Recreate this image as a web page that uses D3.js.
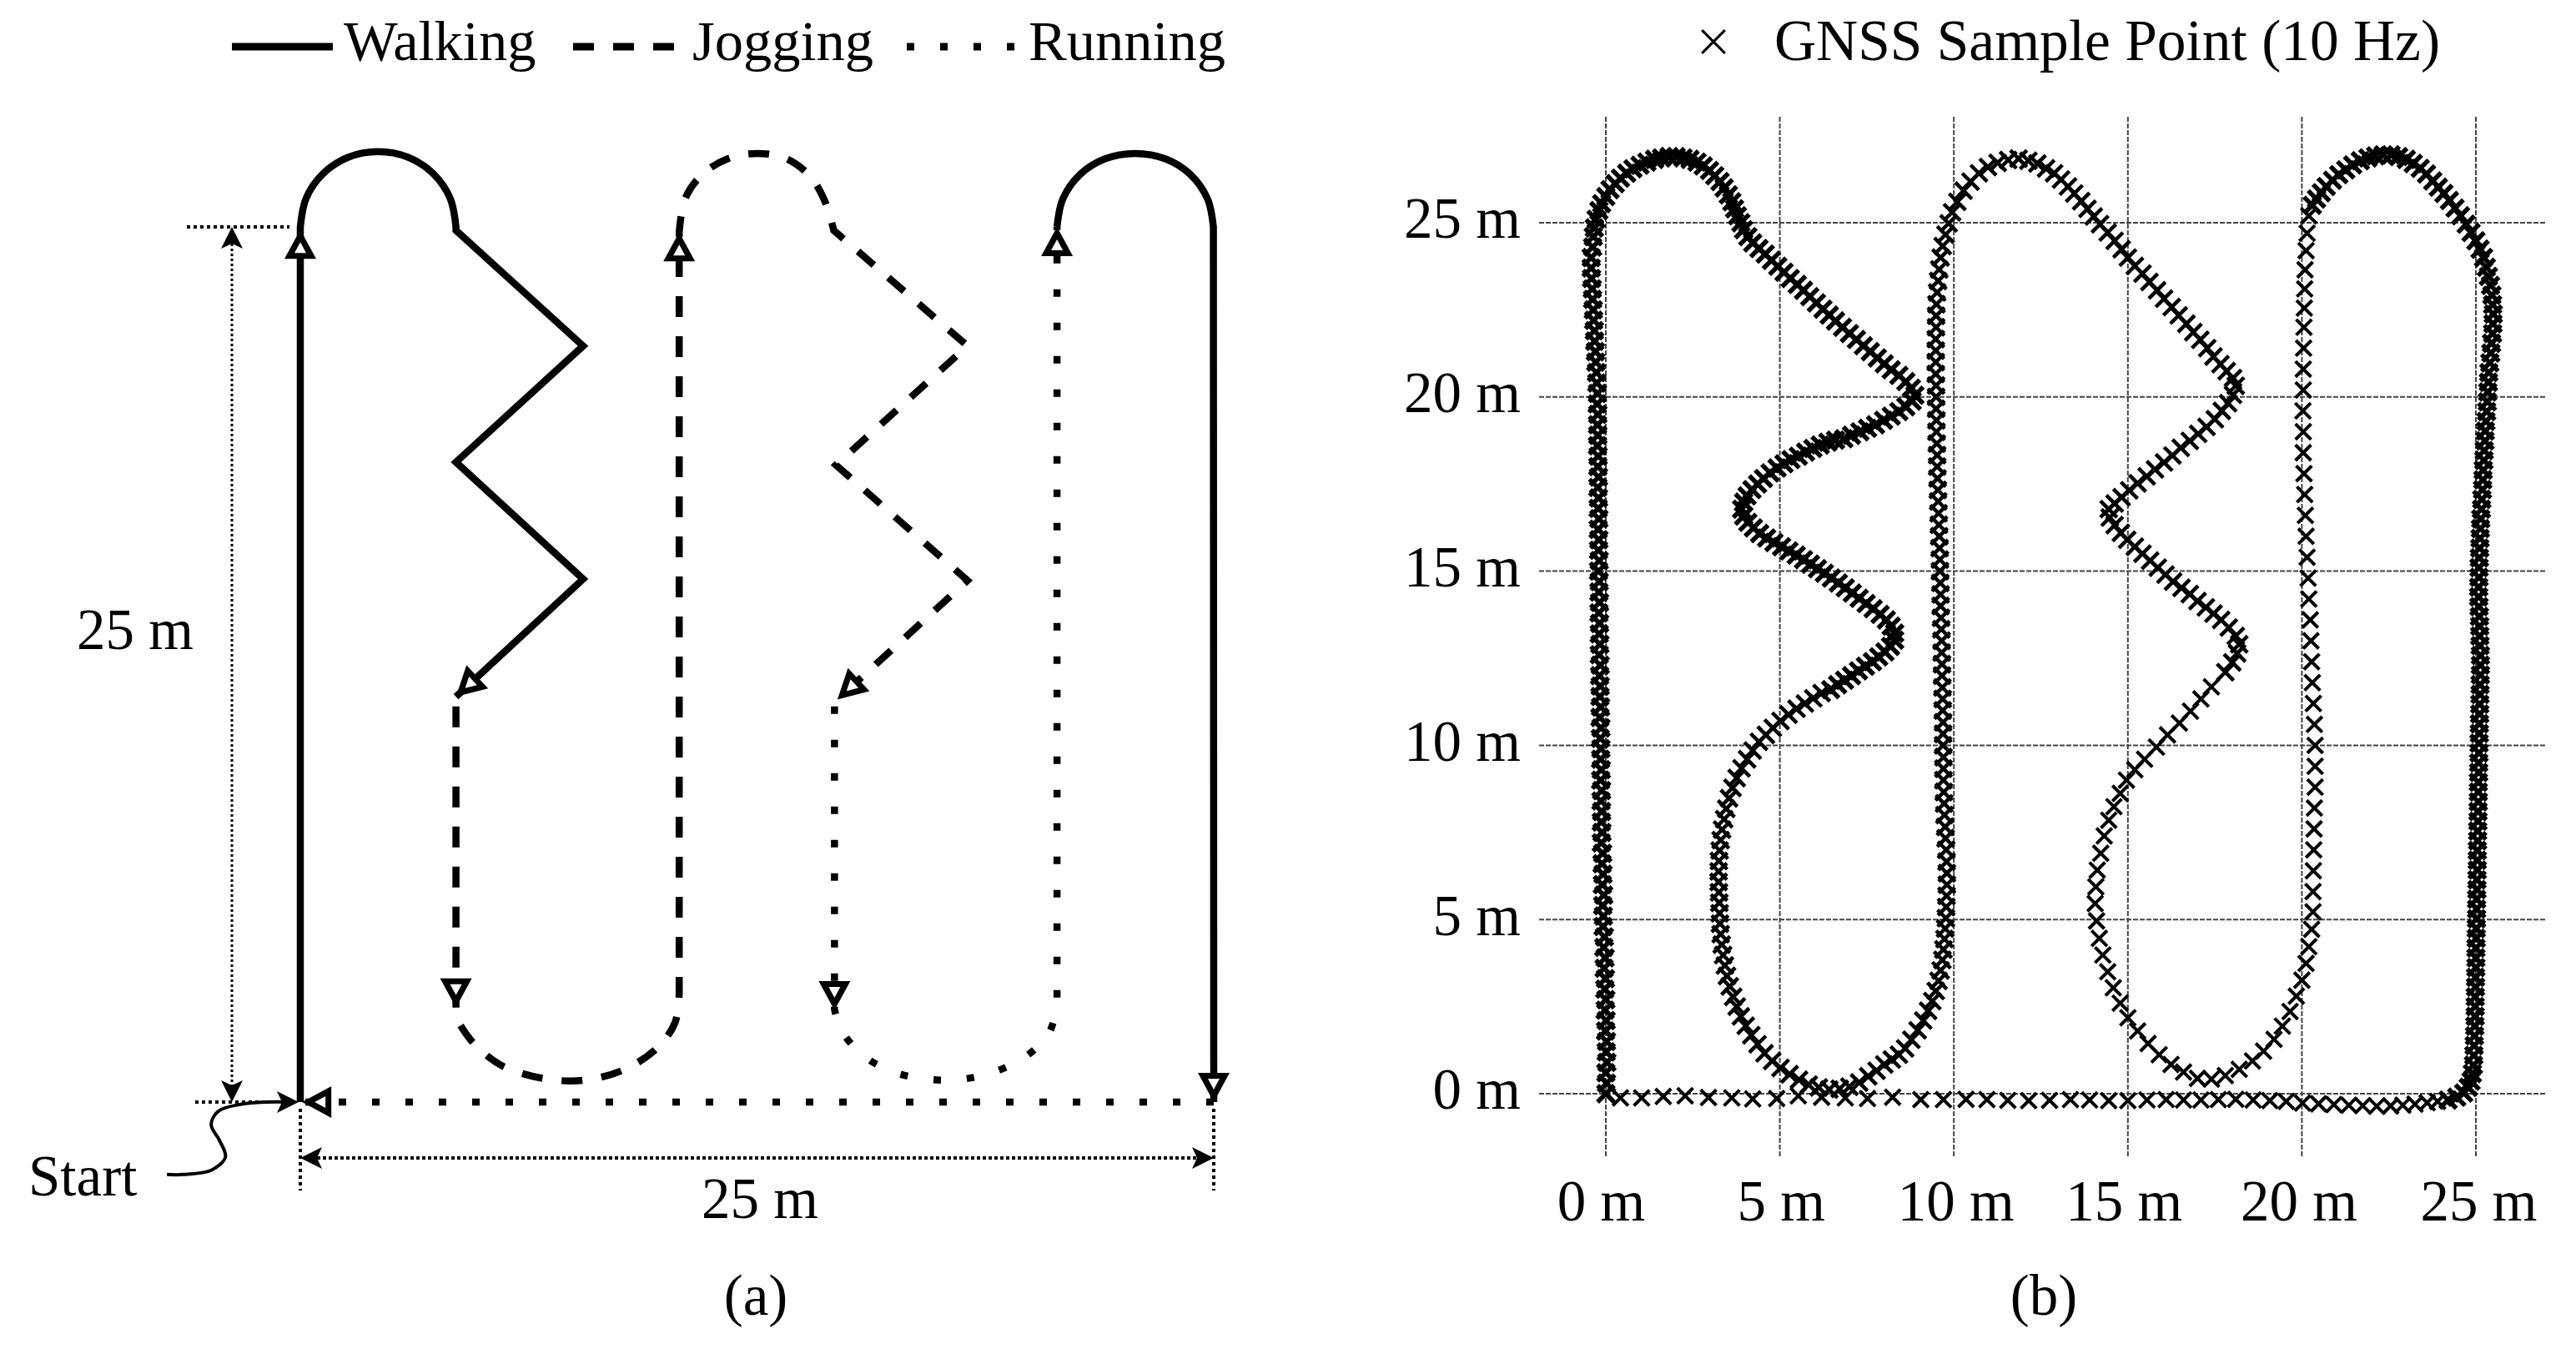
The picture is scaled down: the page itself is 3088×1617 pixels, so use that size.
<!DOCTYPE html>
<html>
<head>
<meta charset="utf-8">
<script src="https://cdn.jsdelivr.net/npm/d3@7"></script>
<style>
  html, body { margin: 0; background: #fff; }
  text { font-family: "Liberation Serif", serif; font-size: 69px; fill: #000; }
</style>
</head>
<body>
<div id="chart"></div>
<script>
// ---- data, all in metres ----
let legendLabels = ["Walking", "Jogging", "Running"];
let legendGnss = "GNSS Sample Point (10 Hz)";
let tickValues = [0, 5, 10, 15, 20, 25];
let courseLength = 25;

// planned course (a)
let walkUp = [[0, 0], [0, 25]];
let walkArcLeft = [[0, 25], [.16, 25.82], [.62, 26.52], [1.31, 26.99], [2.13, 27.15], [2.95, 26.99], [3.64, 26.52], [4.1, 25.82], [4.26, 25]];
let walkZig = [[4.26, 25], [4.26, 24.9], [7.74, 21.6], [4.26, 18.28], [7.74, 14.94], [4.26, 11.58]];
let jogDown = [[4.26, 11.3], [4.26, 2.4]];
let jogArcBottom = [[4.26, 2.4], [4.71, 1.72], [5.5, 1.05], [6.62, .68], [7.74, .62], [8.87, .93], [9.77, 1.55], [10.26, 2.28], [10.37, 3.14]];
let jogUp = [[10.37, 3.14], [10.37, 24.85]];
let jogArcTop = [[10.37, 24.85], [10.53, 25.8], [11, 26.5], [11.7, 26.95], [12.5, 27.1], [13.3, 26.95], [13.95, 26.45], [14.35, 25.75], [14.6, 24.9]];
let jogZig = [[14.6, 24.9], [18.26, 21.6], [14.66, 18.2], [18.26, 14.9], [14.7, 11.5]];
let runDown = [[14.62, 11.3], [14.62, 2.65]];
let runArcBottom = [[14.62, 2.65], [14.82, 2.03], [15.43, 1.31], [16.24, .86], [17.19, .65], [18.09, .65], [18.99, .86], [19.82, 1.28], [20.47, 1.93], [20.71, 2.7]];
let runUp = [[20.71, 2.7], [20.71, 25]];
let walkArcRight = [[20.71, 25], [20.87, 25.8], [21.34, 26.5], [22.03, 26.95], [22.85, 27.1], [23.67, 26.95], [24.36, 26.5], [24.83, 25.8], [24.99, 25]];
let walkDown = [[24.99, 25], [25, 0]];
let runBack = [[25, 0], [0, 0]];

// arrow tips on the course: x, y, heading in degrees
let arrowTips = [[0, 24.92, -90], [10.37, 24.85, -90], [20.71, 25, -90], [4.26, 2.7, 90], [14.62, 2.62, 90], [25, 0, 90], [.05, 0, 180], [4.26, 11.58, 137], [14.7, 11.5, 137]];

// curve from the Start label to the start point
let startCurve = [[-3.65, -2.07], [-3.2, -2.07], [-2.44, -1.95], [-2.05, -1.57], [-2.21, -1.1], [-2.44, -.64], [-2.24, -.26], [-1.67, -.07], [-.91, 0], [-.34, 0]];

// tick label offsets seen in the picture, px... kept with the axis code below

// GNSS samples (b)
let samplesWalkFirst = [
  [0,0],[.02,.3],[0,.6],[.03,.9],[.01,1.2],[.02,1.5],[-.01,1.8],[.01,2.1],[-.02,2.4],[0,2.7],[-.03,3],[-.01,3.3],[-.05,3.6],[-.02,3.9],[-.06,4.2],[-.04,4.5],[-.08,4.8],[-.07,5.1],[-.09,5.4],[-.06,5.7],[-.1,6],[-.08,6.3],[-.11,6.6],[-.09,6.9],[-.13,7.2],[-.11,7.5],[-.13,7.8],[-.12,8.1],[-.14,8.4],[-.12,8.7],[-.15,9],[-.13,9.3],[-.15,9.6],[-.14,9.9],
  [-.16,10.2],[-.14,10.5],[-.17,10.8],[-.15,11.1],[-.17,11.4],[-.16,11.7],[-.18,12],[-.16,12.3],[-.19,12.6],[-.17,12.9],[-.19,13.2],[-.18,13.5],[-.2,13.8],[-.18,14.1],[-.2,14.4],[-.19,14.7],[-.21,15],[-.19,15.3],[-.21,15.6],[-.2,15.9],[-.22,16.2],[-.2,16.5],[-.22,16.8],[-.21,17.1],[-.23,17.4],[-.21,17.7],[-.23,18],[-.22,18.3],[-.24,18.6],[-.23,18.9],[-.24,19.2],[-.23,19.5],[-.25,19.8],[-.24,20.1],
  [-.26,20.4],[-.27,20.7],[-.29,21],[-.3,21.3],[-.32,21.6],[-.33,21.9],[-.35,22.2],[-.36,22.5],[-.38,22.8],[-.39,23.1],[-.41,23.4],[-.42,23.7],[-.42,24],[-.38,24.3],[-.36,24.6],[-.33,24.85],[-.28,25.1],[-.2,25.35],[-.12,25.55],[0,25.75],[.12,25.95],[.27,26.12],[.42,26.28],[.6,26.42],[.78,26.55],[.98,26.65],[1.18,26.74],[1.4,26.82],[1.6,26.86],[1.82,26.9],[2.02,26.9],[2.22,26.86],[2.42,26.82],[2.62,26.74],[2.8,26.63],[2.98,26.5],[3.13,26.35],[3.28,26.18],[3.4,26],[3.52,25.8],[3.62,25.6],[3.7,25.4],[3.78,25.2],[3.88,25],[3.96,24.8],[4.08,24.6],[4.22,24.42],[4.4,24.26],[4.58,24.1],[4.76,23.92],[4.94,23.75],[5.12,23.58],[5.3,23.4],[5.5,23.23],[5.68,23.06],[5.86,22.88],[6.05,22.7],[6.24,22.52],[6.42,22.35],[6.6,22.18],[6.8,22],[7,21.82],[7.2,21.65],[7.4,21.47],[7.6,21.3],[7.8,21.12],[8,20.95],[8.2,20.78],[8.42,20.62],[8.62,20.44],[8.78,20.25],
  [8.88,20.05],[8.8,19.88],[8.62,19.72],[8.42,19.58],[8.2,19.45],[7.98,19.33],[7.75,19.2],[7.52,19.1],[7.3,19],[7.06,18.9],[6.84,18.8],[6.6,18.76],[6.38,18.7],[6.16,18.62],[5.95,18.52],[5.74,18.42],[5.53,18.3],[5.32,18.2],[5.12,18.08],[4.92,17.96],[4.72,17.82],[4.53,17.66],[4.36,17.5],[4.2,17.34],[4.06,17.16],[3.96,16.98],[3.9,16.78],[3.96,16.58],[4.08,16.4],[4.24,16.24],[4.42,16.08],[4.62,15.95],[4.83,15.82],[5.05,15.7],[5.26,15.58],[5.47,15.46],[5.68,15.33],[5.88,15.2],[6.08,15.07],[6.28,14.94],[6.48,14.8],[6.68,14.66],[6.88,14.52],[7.08,14.37],[7.28,14.22],[7.48,14.07],[7.68,13.92],[7.88,13.76],[8.06,13.6],[8.2,13.42],[8.3,13.22],[8.3,13.02],[8.18,12.84],[8.02,12.68],[7.84,12.54],[7.66,12.4],[7.46,12.27],[7.26,12.14],[7.06,12],[6.86,11.87],[6.66,11.74],[6.46,11.6]
];
let samplesJog = [
  [6.2,11.5],[5.96,11.35],[5.72,11.2],[5.48,11.05],[5.25,10.88],[5.02,10.7],[4.8,10.5],[4.6,10.3],[4.4,10.1],[4.22,9.85],[4.06,9.6],[3.9,9.34],[3.76,9.06],[3.64,8.78],[3.54,8.48],[3.46,8.18],[3.4,7.88],[3.34,7.58],[3.3,7.28],[3.27,6.98],[3.25,6.68],[3.24,6.38],[3.24,6.08],[3.25,5.78],[3.26,5.48],[3.27,5.18],[3.28,4.88],[3.3,4.58],[3.33,4.28],[3.37,3.98],[3.42,3.68],[3.48,3.38],[3.56,3.08],[3.66,2.78],[3.76,2.5],[3.88,2.22],[4.02,1.95],[4.18,1.68],[4.36,1.42],[4.56,1.16],[4.78,.94],[5.02,.74],[5.28,.56],[5.55,.4],[5.83,.26],[6.12,.18],[6.42,.12],[6.72,.14],[7,.2],[7.28,.32],[7.54,.5],[7.78,.66],[8,.84],[8.22,.98],[8.42,1.12],[8.6,1.3],[8.78,1.55],[8.96,1.82],[9.12,2.1],[9.26,2.38],[9.38,2.66],[9.48,2.95],[9.56,3.24],[9.62,3.54],[9.67,3.84],[9.7,4.14],[9.73,4.44],[9.75,4.74],[9.77,5.04],[9.78,5.36],
  [9.79,5.68],[9.8,6],[9.8,6.33],[9.79,6.66],[9.78,7],[9.76,7.33],[9.75,7.66],[9.73,8],[9.72,8.33],[9.71,8.66],[9.7,9],[9.7,9.33],[9.7,9.66],[9.69,10],[9.69,10.33],[9.69,10.66],[9.68,11],[9.68,11.33],[9.67,11.66],[9.66,12],[9.66,12.33],[9.65,12.66],[9.65,13],[9.64,13.33],[9.63,13.66],[9.62,14],[9.62,14.33],[9.61,14.66],[9.6,15],[9.6,15.33],[9.59,15.66],[9.58,16],[9.57,16.33],[9.56,16.66],[9.55,17],[9.54,17.33],[9.53,17.66],[9.52,18],[9.52,18.33],[9.51,18.66],[9.5,19],[9.5,19.33],[9.49,19.66],[9.49,20],[9.49,20.33],[9.48,20.66],[9.48,21],[9.48,21.33],[9.48,21.66],[9.49,22],[9.49,22.33],[9.5,22.66],[9.52,23],[9.55,23.33],[9.58,23.66],[9.62,24],[9.68,24.33],[9.76,24.66],[9.85,24.98],[9.95,25.3],[10.1,25.6],[10.28,25.92],[10.48,26.18],[10.72,26.42],[10.98,26.6],[11.26,26.72],[11.56,26.8],[11.86,26.84],[12.14,26.78],[12.4,26.7],[12.65,26.56],[12.88,26.42],[13.08,26.24],[13.28,26.04],[13.46,25.84],[13.66,25.62],[13.84,25.4],[14.02,25.18],[14.2,24.96],[14.42,24.72],
  [14.62,24.48],[14.82,24.24],[15,24],[15.2,23.76],[15.42,23.54],[15.62,23.3],[15.84,23.06],[16.04,22.82],[16.26,22.58],[16.46,22.34],[16.68,22.1],[16.88,21.86],[17.08,21.64],[17.28,21.4],[17.46,21.16],[17.66,20.94],[17.84,20.74],[18.02,20.54],[18.1,20.32],[18.02,20.06],[17.88,19.82],[17.7,19.6],[17.5,19.36],[17.26,19.14],[17.02,18.94],[16.78,18.74],[16.52,18.54],[16.28,18.32],[16.04,18.12],[15.78,17.92],[15.54,17.72],[15.28,17.52],[15.04,17.32],[14.82,17.12],[14.62,16.94],[14.45,16.78],[14.48,16.54],[14.62,16.32],[14.8,16.1],[14.98,15.9],[15.2,15.7],[15.42,15.5],[15.64,15.3],[15.86,15.1],[16.08,14.9],[16.3,14.7],[16.54,14.52],[16.78,14.34],[17,14.14],[17.24,13.96],[17.46,13.78],[17.68,13.6],[17.9,13.38],[18.1,13.14],[18.2,12.9],[18.14,12.64],[18,12.38],[17.8,12.1]
];
let samplesRunOut = [
  [17.4,11.68],[17.1,11.33],[16.8,10.98],[16.48,10.64],[16.14,10.3],[15.82,9.95],[15.48,9.6],[15.2,9.3],[14.96,9],[14.78,8.62],[14.6,8.24],[14.45,7.85],[14.32,7.4],[14.22,6.9],[14.12,6.42],[14.08,5.94],[14.06,5.46],[14.1,4.96],[14.18,4.46],[14.28,3.98],[14.42,3.5],[14.58,3.04],[14.78,2.6],[15,2.18],[15.28,1.8],[15.58,1.44],[15.9,1.12],[16.24,.84],[16.6,.62],[17,.44],[17.4,.42],[17.8,.52],[18.2,.7],[18.58,.94],[18.9,1.22],[19.2,1.56],[19.44,1.94],[19.66,2.36],[19.84,2.8],[20,3.26],[20.12,3.74],[20.2,4.22],[20.28,4.72],[20.32,5.22],[20.32,5.8],[20.33,6.4],[20.34,7],[20.35,7.6],[20.36,8.2],[20.38,8.8],[20.38,9.4],[20.38,10],[20.36,10.6],[20.33,11.2],[20.3,11.8],[20.28,12.4],[20.26,13],[20.24,13.6],[20.2,14.2],[20.18,14.8],[20.15,15.4],[20.12,16],[20.1,16.6],[20.08,17.2],[20.06,17.8],[20.04,18.4],[20.04,19],[20.03,19.6],[20.04,20.2],[20.04,20.8],[20.05,21.4],[20.06,22],[20.07,22.55],[20.08,23.1],[20.09,23.65],[20.12,24.2],[20.15,24.7],[20.2,25.2]
];
let samplesWalkLast = [
  [20.3,25.5],[20.42,25.68],[20.56,25.86],[20.7,26.04],[20.88,26.22],[21.06,26.38],[21.26,26.52],[21.46,26.66],[21.68,26.78],[21.9,26.86],[22.12,26.92],[22.34,26.95],[22.56,26.95],[22.78,26.9],[23,26.82],[23.2,26.7],[23.4,26.56],[23.58,26.4],[23.76,26.2],[23.92,26.02],[24.08,25.84],[24.24,25.64],[24.4,25.42],[24.56,25.2],[24.72,24.96],[24.86,24.72],[25,24.48],[25.12,24.24],[25.22,24],[25.3,23.72],[25.36,23.46],[25.42,23.2],[25.46,22.92],[25.48,22.65],[25.5,22.38],[25.49,22.1],[25.48,21.82],[25.45,21.54],[25.43,21.26],[25.4,20.98],[25.37,20.7],[25.36,20.42],[25.34,20.14],[25.33,19.86],[25.31,19.58],[25.29,19.3],[25.27,19.02],[25.26,18.74],[25.24,18.46],[25.23,18.18],[25.21,17.9],[25.2,17.62],[25.19,17.34],[25.17,17.06],[25.16,16.78],[25.14,16.5],[25.13,16.22],[25.12,15.94],[25.11,15.66],[25.1,15.38],[25.09,15.1],[25.09,14.82],[25.08,14.54],[25.08,14.26],[25.09,13.98],[25.1,13.7],[25.11,13.42],[25.11,13.14],[25.12,12.86],[25.13,12.58],[25.13,12.3],[25.13,12.02],[25.12,11.74],[25.12,11.46],[25.11,11.18],[25.11,10.9],[25.1,10.62],[25.1,10.34],[25.09,10.06],[25.09,9.78],[25.08,9.5],[25.08,9.22],[25.07,8.94],[25.07,8.66],[25.07,8.38],[25.06,8.1],[25.06,7.82],[25.05,7.54],[25.05,7.26],[25.04,6.98],[25.04,6.7],[25.04,6.42],[25.03,6.14],[25.03,5.86],[25.02,5.58],[25.02,5.3],[25.02,5.02],[25.01,4.74],[25.01,4.46],[25,4.18],[25,3.9],[25,3.62],[24.99,3.34],[24.99,3.06],[24.98,2.78],[24.98,2.5],[24.98,2.22],[24.97,1.94],[24.96,1.66],[24.95,1.38],[24.94,1.1],[24.93,.82],[24.9,.58],[24.86,.36],[24.78,.18],[24.65,.02],[24.45,-.1],[24.2,-.18]
];
let samplesRunBack = [
  [23.9,-.22],[23.6,-.26],[23.25,-.3],[22.9,-.33],[22.55,-.35],[22.15,-.36],[21.75,-.34],[21.35,-.33],[20.92,-.31],[20.48,-.29],[20.02,-.27],[19.55,-.22],[19.08,-.2],[18.6,-.18],[18.1,-.16],[17.6,-.17],[17.1,-.18],[16.6,-.18],[16.1,-.17],[15.55,-.18],[15,-.2],[14.45,-.2],[13.9,-.18],[13.35,-.17],[12.75,-.19],[12.15,-.2],[11.55,-.19],[10.95,-.17],[10.35,-.16],[9.7,-.17],[9.05,-.17],[8.24,-.1],[7.52,-.14],[6.88,-.12],[6.2,-.1],[5.53,-.06],[4.91,-.14],[4.22,-.15],[3.62,-.12],[2.95,-.11],[2.28,-.06],[1.65,-.08],[1.03,-.12],[.42,-.12]
];

// ---- page ----
let width = 3088;
let height = 1617;

let svg = d3.select("#chart").append("svg")
  .attr("width", width)
  .attr("height", height)
  .style("display", "block");

// scales for both panels
let xA = d3.scaleLinear().domain([0, courseLength]).range([360, 1455]);
let yA = d3.scaleLinear().domain([0, courseLength]).range([1321, 272]);
let xB = d3.scaleLinear().domain([0, courseLength]).range([1925, 2968]);
let yB = d3.scaleLinear().domain([0, courseLength]).range([1311, 267]);

let lineStraight = d3.line().x(d => xA(d[0])).y(d => yA(d[1]));
let lineSmooth = d3.line().x(d => xA(d[0])).y(d => yA(d[1])).curve(d3.curveCatmullRom);

// join pieces into one path so the dash pattern runs on
function joinPieces(pieces) {
  return pieces.map((s, i) => i ? s.replace(/^M/, "L") : s).join("");
}

let dashes = { walking: null, jogging: "25 23", running: "9 31" };

// ---- legends ----
let legendSpots = [[278, 399, 412], [687, 809, 830], [1087, 1219, 1233]];
let legendDash = [dashes.walking, dashes.jogging, dashes.running];
legendLabels.forEach((label, i) => {
  svg.append("line")
    .attr("x1", legendSpots[i][0]).attr("x2", legendSpots[i][1])
    .attr("y1", 56).attr("y2", 56)
    .attr("stroke", "#000").attr("stroke-width", 9)
    .attr("stroke-dasharray", legendDash[i]);
  svg.append("text").attr("x", legendSpots[i][2]).attr("y", 72).style("font-size", "68.5px").text(label);
});

let crossLarge = d3.symbol().type(d3.symbolTimes).size(500)();

svg.append("path")
  .attr("d", crossLarge)
  .attr("transform", "translate(2054,50)")
  .attr("fill", "none").attr("stroke", "#000").attr("stroke-width", 3);
svg.append("text").attr("x", 2127).attr("y", 72).style("font-size", "69.4px").text(legendGnss);

// ---- panel a: dimension lines ----
let gDim = svg.append("g").attr("fill", "none").attr("stroke", "#000");
let dimLines = [
  [xA(0) - 136, yA(25), xA(0) - 13, yA(25), 4, "4 4"],
  [xA(0) - 126, yA(0), xA(0) - 40, yA(0), 4, "4 4"],
  [xA(0), yA(0) + 8, xA(0), yA(0) + 106, 4, "4 4"],
  [xA(25), yA(0) + 8, xA(25), yA(0) + 106, 4, "4 4"],
  [xA(0) - 82, yA(25) + 20, xA(0) - 82, yA(0) - 20, 3, "3 3"],
  [xA(0) + 20, yA(0) + 67, xA(25) - 20, yA(0) + 67, 4, "4 3"]
];
dimLines.forEach(d => {
  gDim.append("line")
    .attr("x1", d[0]).attr("y1", d[1]).attr("x2", d[2]).attr("y2", d[3])
    .attr("stroke-width", d[4]).attr("stroke-dasharray", d[5]);
});

// Start pointer
svg.append("path")
  .attr("d", lineSmooth(startCurve))
  .attr("fill", "none").attr("stroke", "#000").attr("stroke-width", 4);

// ---- panel a: course ----
let gCourse = svg.append("g").attr("fill", "none").attr("stroke", "#000").attr("stroke-width", 8.5);

gCourse.append("path")
  .attr("d", joinPieces([lineStraight(walkUp), lineSmooth(walkArcLeft), lineStraight(walkZig)]));
gCourse.append("path")
  .attr("stroke-dasharray", dashes.jogging)
  .attr("d", joinPieces([lineStraight(jogDown), lineSmooth(jogArcBottom), lineStraight(jogUp), lineSmooth(jogArcTop), lineStraight(jogZig)]));
gCourse.append("path")
  .attr("stroke-dasharray", dashes.running)
  .attr("d", joinPieces([lineStraight(runDown), lineSmooth(runArcBottom), lineStraight(runUp)]));
gCourse.append("path")
  .attr("d", joinPieces([lineSmooth(walkArcRight), lineStraight(walkDown)]));
gCourse.append("path")
  .attr("stroke-dasharray", dashes.running)
  .attr("d", lineStraight(runBack));

// open triangle with a white hole, tip at the origin pointing along +x
let arrowOuter = "M0,0L-35,-19L-35,19Z";
let arrowHole = "M-15,0L-28,-7L-28,7Z";
let gTips = svg.selectAll(".tip").data(arrowTips).enter().append("g")
  .attr("class", "tip")
  .attr("transform", d => `translate(${xA(d[0])},${yA(d[1])}) rotate(${d[2]})`);
gTips.append("path").attr("d", arrowOuter).attr("fill", "#000");
gTips.append("path").attr("d", arrowHole).attr("fill", "#fff");

// solid dimension arrow, tip at the origin pointing along +x
let stealth = "M0,0L-26,-13L-20,0L-26,13Z";
let stealthSpots = [
  [xA(0) - 82, yA(25), -90],
  [xA(0) - 82, yA(0), 90],
  [xA(0), yA(0) + 67, 180],
  [xA(25), yA(0) + 67, 0],
  [xA(0) - 2, yA(0), 0]
];
svg.selectAll(".stealth").data(stealthSpots).enter().append("path")
  .attr("class", "stealth")
  .attr("d", stealth)
  .attr("transform", d => `translate(${d[0]},${d[1]}) rotate(${d[2]})`)
  .attr("fill", "#000");

// panel a labels
svg.append("text").attr("x", 92).attr("y", 778).text("25 m");
svg.append("text").attr("x", 911).attr("y", 1460).attr("text-anchor", "middle").text("25 m");
svg.append("text").attr("x", 34).attr("y", 1433).text("Start");
svg.append("text").attr("x", 906).attr("y", 1576).attr("text-anchor", "middle").text("(a)");

// ---- panel b: grid ----
let gGrid = svg.append("g").attr("stroke", "#444").attr("stroke-width", 2).attr("stroke-dasharray", "6 2");
gGrid.selectAll(".gridX").data(tickValues).enter().append("line")
  .attr("class", "gridX")
  .attr("x1", d => xB(d)).attr("x2", d => xB(d))
  .attr("y1", 140).attr("y2", 1386);
gGrid.selectAll(".gridY").data(tickValues).enter().append("line")
  .attr("class", "gridY")
  .attr("y1", d => yB(d)).attr("y2", d => yB(d))
  .attr("x1", 1845).attr("x2", 3053);

// axes, labels only
let fnXAxis = d3.axisBottom(xB).tickValues(tickValues).tickSize(0).tickFormat(d => d + " m");
let fnYAxis = d3.axisLeft(yB).tickValues(tickValues).tickSize(0).tickPadding(0).tickFormat(d => d + " m");

// small shifts of the x labels, they are not quite centred on the grid
let xLabelShift = [-6, 1, 2, -5, -4, 3];

let gX = svg.append("g").attr("transform", "translate(0,1463)").call(fnXAxis);
gX.select(".domain").remove();
gX.selectAll("text")
  .attr("y", 0).attr("dy", 0)
  .attr("dx", (d, i) => xLabelShift[i])
  .style("font-size", "69px").style("font-family", '"Liberation Serif", serif');

let gY = svg.append("g").attr("transform", "translate(1823,0)").call(fnYAxis);
gY.select(".domain").remove();
gY.selectAll("text")
  .attr("x", 0).attr("dy", "0.26em")
  .style("font-size", "69px").style("font-family", '"Liberation Serif", serif');

// ---- panel b: samples ----
// the walking stretches are denser in the picture, so their marks are drawn heavier
let sampleGroups = [samplesWalkFirst, samplesJog, samplesRunOut, samplesWalkLast, samplesRunBack];
let sampleStroke = [5.5, 4.5, 4, 5.5, 4];
let sampleSize = [260, 260, 230, 260, 230];
let gSamples = svg.append("g").attr("fill", "none").attr("stroke", "#000");
sampleGroups.forEach((samples, i) => {
  gSamples.append("g")
    .attr("stroke-width", sampleStroke[i])
    .selectAll("path").data(samples).enter().append("path")
    .attr("d", d3.symbol().type(d3.symbolTimes).size(sampleSize[i])())
    .attr("transform", d => `translate(${xB(d[0])},${yB(d[1])})`);
});

svg.append("text").attr("x", 2450).attr("y", 1576).attr("text-anchor", "middle").text("(b)");
</script>
</body>
</html>
